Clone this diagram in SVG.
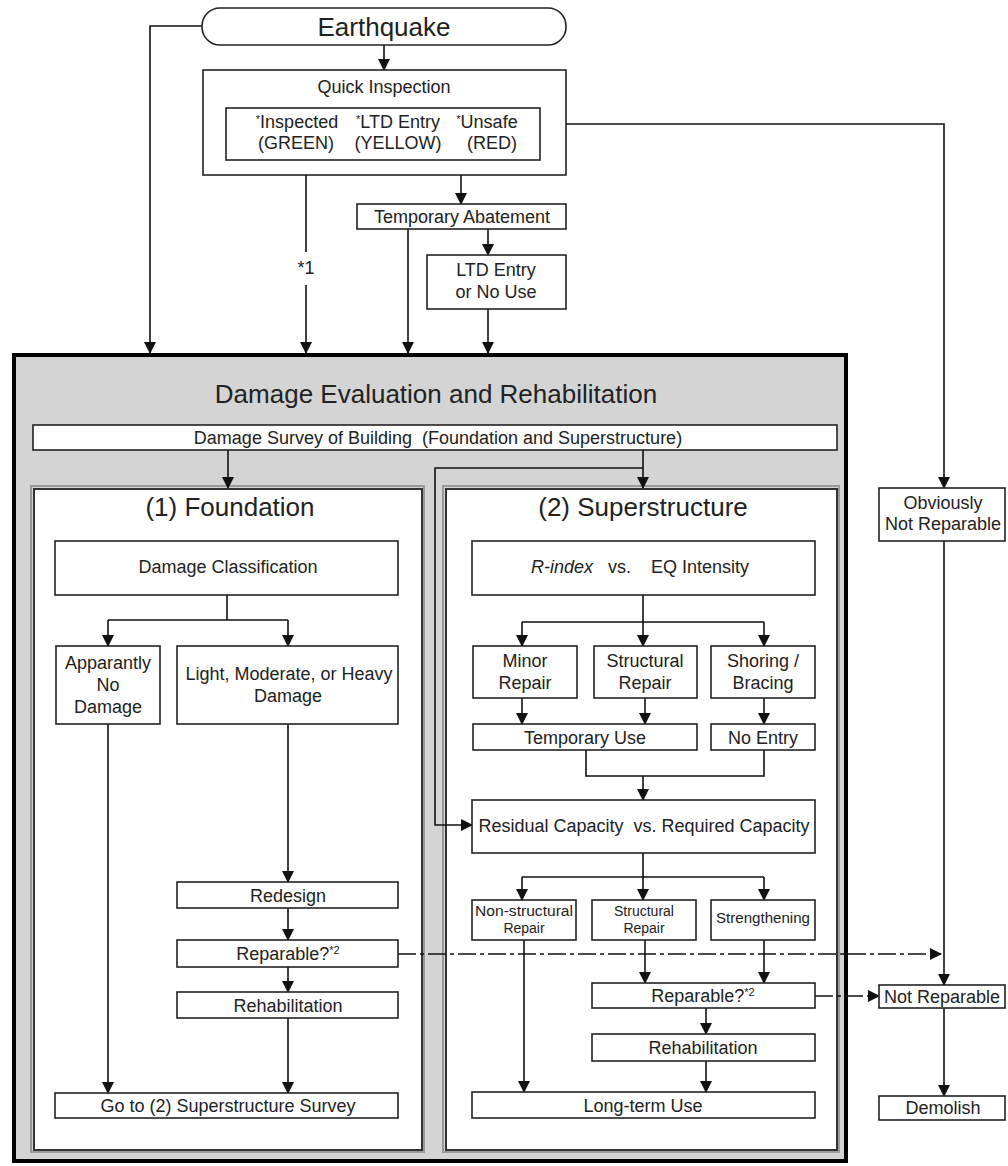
<svg xmlns="http://www.w3.org/2000/svg" width="1008" height="1166" viewBox="0 0 1008 1166">
<style>
text{font-family:"Liberation Sans",Arial,sans-serif;fill:#222;text-anchor:middle;dominant-baseline:central}
.pre{white-space:pre}
.n{fill:#fff;stroke:#222;stroke-width:1.6}
.t{font-size:18px}
.big{font-size:26px}
.sm{font-size:14px}
.c{fill:none;stroke:#111;stroke-width:1.6}
.ca{fill:none;stroke:#111;stroke-width:1.6;marker-end:url(#ah)}
.dash{fill:none;stroke:#111;stroke-width:1.6;stroke-dasharray:18 4 4 4;marker-end:url(#ah)}
.panel{fill:#fff;stroke:#333;stroke-width:2}
.shadow{fill:none;stroke:#999;stroke-width:2}
</style>
<defs>
<marker id="ah" markerUnits="userSpaceOnUse" markerWidth="12" markerHeight="12" viewBox="0 0 12 12" refX="11" refY="6" orient="auto">
<path d="M0,0 L12,6 L0,12 z" fill="#111"/>
</marker>
</defs>
<rect width="1008" height="1166" fill="#fff"/>

<g id="main">
<rect x="14" y="355" width="832" height="806" fill="#d4d4d4" stroke="#000" stroke-width="4"/>
<text class="big" x="436" y="394">Damage Evaluation and Rehabilitation</text>
</g>
<g id="panel-foundation">
<rect class="shadow" x="31" y="486" width="393" height="666"/>
<rect class="panel" x="34" y="489" width="388" height="661"/>
<text class="big" x="230" y="507">(1) Foundation</text>
</g>
<g id="panel-superstructure">
<rect class="shadow" x="443" y="486" width="396" height="666"/>
<rect class="panel" x="446" y="489" width="391" height="661"/>
<text class="big" x="643" y="507">(2) Superstructure</text>
</g>

<g id="connectors">
<path class="ca" d="M384,45 V70"/>
<path class="ca" d="M202,26 H150 V353"/>
<path class="c" d="M306,175 V252"/>
<path class="ca" d="M306,285 V353"/>
<path class="ca" d="M461,175 V204"/>
<path class="ca" d="M408,229 V353"/>
<path class="ca" d="M488,229 V255"/>
<path class="ca" d="M488,309 V353"/>
<path class="ca" d="M566,124 H944 V488"/>
<path class="ca" d="M228,450 V488"/>
<path class="ca" d="M643,450 V488"/>
<path class="ca" d="M643,468 H435 V825 H472"/>
<path class="c" d="M227,595 V620 M108,620 H288"/>
<path class="ca" d="M108,620 V646"/>
<path class="ca" d="M288,620 V646"/>
<path class="ca" d="M108,724 V1093"/>
<path class="ca" d="M288,724 V882"/>
<path class="ca" d="M288,908 V940"/>
<path class="ca" d="M288,967 V992"/>
<path class="ca" d="M288,1018 V1093"/>
<path class="dash" d="M398,954 H941"/>
<path class="c" d="M643,595 V622 M522,622 H764"/>
<path class="ca" d="M522,622 V646"/>
<path class="ca" d="M643,622 V646"/>
<path class="ca" d="M764,622 V646"/>
<path class="ca" d="M522,698 V724"/>
<path class="ca" d="M645,698 V724"/>
<path class="ca" d="M764,698 V724"/>
<path class="c" d="M586,750 V776 H764 V750"/>
<path class="ca" d="M643,776 V800"/>
<path class="c" d="M643,853 V877 M522,877 H764"/>
<path class="ca" d="M522,877 V900"/>
<path class="ca" d="M643,877 V900"/>
<path class="ca" d="M764,877 V900"/>
<path class="ca" d="M524,940 V1092"/>
<path class="ca" d="M645,940 V983"/>
<path class="ca" d="M764,940 V983"/>
<path class="ca" d="M706,1008 V1034"/>
<path class="ca" d="M706,1061 V1092"/>
<path class="dash" d="M815,996 H879"/>
<path class="ca" d="M944,541 V985"/>
<path class="ca" d="M944,1008 V1096"/>
<text class="t" x="306" y="268">*1</text>
</g>

<g id="earthquake">
<rect class="n" x="202" y="8" width="364" height="37" rx="18" ry="18" stroke-width="2"/>
<text class="big" x="384" y="27">Earthquake</text>
</g>
<g id="quick-inspection">
<rect class="n" x="203" y="70" width="363" height="105"/>
<text class="t" x="384" y="87">Quick Inspection</text>
<rect class="n" x="226" y="108" width="314" height="52"/>
<text class="t" x="297" y="122"><tspan font-size="11" baseline-shift="30%">*</tspan>Inspected</text>
<text class="t" x="296" y="143">(GREEN)</text>
<text class="t" x="398" y="122"><tspan font-size="11" baseline-shift="30%">*</tspan>LTD Entry</text>
<text class="t" x="398" y="143">(YELLOW)</text>
<text class="t" x="487" y="122"><tspan font-size="11" baseline-shift="30%">*</tspan>Unsafe</text>
<text class="t" x="492" y="143">(RED)</text>
</g>
<g id="temporary-abatement">
<rect class="n" x="357" y="204" width="209" height="25"/>
<text class="t" x="462" y="217">Temporary Abatement</text>
</g>
<g id="ltd-entry">
<rect class="n" x="427" y="255" width="139" height="54"/>
<text class="t" x="496" y="270">LTD Entry</text>
<text class="t" x="496" y="292">or No Use</text>
</g>
<g id="obviously-not-reparable">
<rect class="n" x="879" y="488" width="126" height="53"/>
<text class="t" x="943" y="503">Obviously</text>
<text class="t" x="943" y="524">Not Reparable</text>
</g>
<g id="damage-survey">
<rect class="n" x="33" y="425" width="804" height="25"/>
<text class="t pre" x="438" y="438">Damage Survey of Building  (Foundation and Superstructure)</text>
</g>

<g id="damage-classification">
<rect class="n" x="55" y="541" width="343" height="54"/>
<text class="t" x="228" y="567">Damage Classification</text>
</g>
<g id="apparantly-no-damage">
<rect class="n" x="56" y="646" width="104" height="78"/>
<text class="t" x="108" y="663">Apparantly</text>
<text class="t" x="108" y="685">No</text>
<text class="t" x="108" y="707">Damage</text>
</g>
<g id="light-moderate-heavy">
<rect class="n" x="177" y="646" width="221" height="78"/>
<text class="t" x="289" y="674">Light, Moderate, or Heavy</text>
<text class="t" x="288" y="696">Damage</text>
</g>
<g id="redesign">
<rect class="n" x="177" y="882" width="221" height="26"/>
<text class="t" x="288" y="896">Redesign</text>
</g>
<g id="reparable-1">
<rect class="n" x="177" y="940" width="221" height="27"/>
<text class="t" x="288" y="954">Reparable?<tspan font-size="11" baseline-shift="40%">*2</tspan></text>
</g>
<g id="rehabilitation-1">
<rect class="n" x="177" y="992" width="221" height="26"/>
<text class="t" x="288" y="1006">Rehabilitation</text>
</g>
<g id="go-to-superstructure">
<rect class="n" x="55" y="1093" width="343" height="25"/>
<text class="t" x="228" y="1106">Go to (2) Superstructure Survey</text>
</g>

<g id="r-index">
<rect class="n" x="472" y="541" width="343" height="54"/>
<text class="t pre" x="640" y="567"><tspan font-style="italic">R-index</tspan>   vs.    EQ Intensity</text>
</g>
<g id="minor-repair">
<rect class="n" x="473" y="646" width="104" height="52"/>
<text class="t" x="525" y="661">Minor</text>
<text class="t" x="525" y="683">Repair</text>
</g>
<g id="structural-repair-1">
<rect class="n" x="594" y="646" width="103" height="52"/>
<text class="t" x="645" y="661">Structural</text>
<text class="t" x="645" y="683">Repair</text>
</g>
<g id="shoring-bracing">
<rect class="n" x="711" y="646" width="104" height="52"/>
<text class="t" x="763" y="661">Shoring /</text>
<text class="t" x="763" y="683">Bracing</text>
</g>
<g id="temporary-use">
<rect class="n" x="473" y="724" width="224" height="26"/>
<text class="t" x="585" y="738">Temporary Use</text>
</g>
<g id="no-entry">
<rect class="n" x="711" y="724" width="104" height="26"/>
<text class="t" x="763" y="738">No Entry</text>
</g>
<g id="residual-capacity">
<rect class="n" x="472" y="800" width="343" height="53"/>
<text class="t pre" x="644" y="826">Residual Capacity  vs. Required Capacity</text>
</g>
<g id="non-structural-repair">
<rect class="n" x="472" y="900" width="104" height="40"/>
<text class="sm" x="524" y="911" textLength="98" lengthAdjust="spacingAndGlyphs">Non-structural</text>
<text class="sm" x="524" y="928">Repair</text>
</g>
<g id="structural-repair-2">
<rect class="n" x="592" y="900" width="104" height="40"/>
<text class="sm" x="644" y="911">Structural</text>
<text class="sm" x="644" y="928">Repair</text>
</g>
<g id="strengthening">
<rect class="n" x="711" y="900" width="104" height="40"/>
<text class="sm" x="763" y="918" textLength="94" lengthAdjust="spacingAndGlyphs">Strengthening</text>
</g>
<g id="reparable-2">
<rect class="n" x="592" y="983" width="223" height="25"/>
<text class="t" x="703" y="996">Reparable?<tspan font-size="11" baseline-shift="40%">*2</tspan></text>
</g>
<g id="rehabilitation-2">
<rect class="n" x="592" y="1034" width="223" height="27"/>
<text class="t" x="703" y="1048">Rehabilitation</text>
</g>
<g id="long-term-use">
<rect class="n" x="472" y="1092" width="343" height="26"/>
<text class="t" x="643" y="1106">Long-term Use</text>
</g>
<g id="not-reparable">
<rect class="n" x="879" y="985" width="126" height="23"/>
<text class="t" x="942" y="997">Not Reparable</text>
</g>
<g id="demolish">
<rect class="n" x="879" y="1096" width="126" height="24"/>
<text class="t" x="943" y="1108">Demolish</text>
</g>
</svg>
